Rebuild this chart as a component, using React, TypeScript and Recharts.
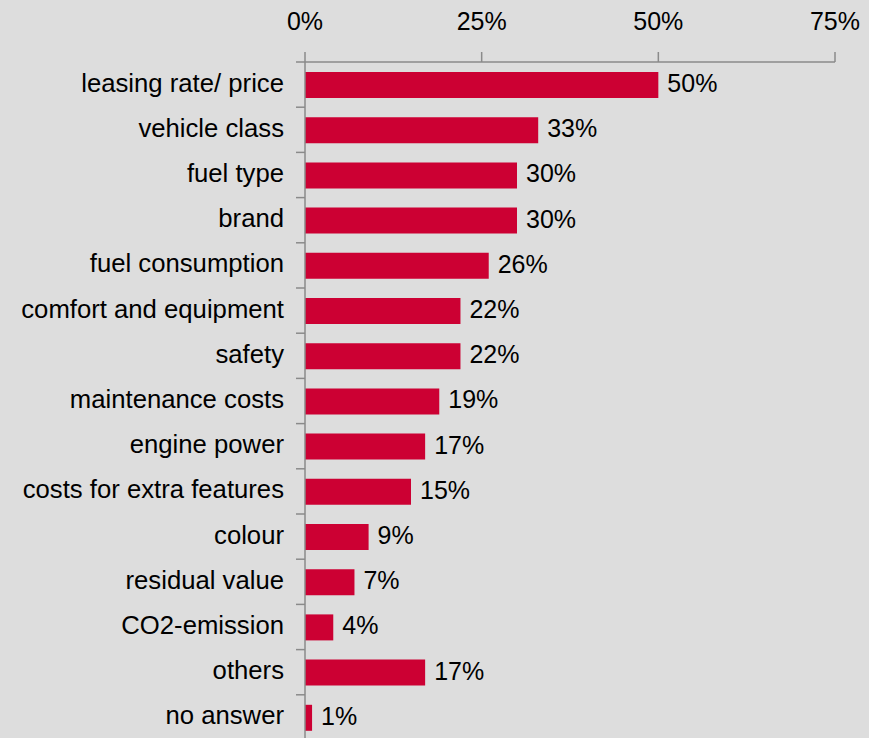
import { BarChart, Bar, XAxis, YAxis, LabelList } from 'recharts';

const categories = [
  'leasing rate/ price',
  'vehicle class',
  'fuel type',
  'brand',
  'fuel consumption',
  'comfort and equipment',
  'safety',
  'maintenance costs',
  'engine power',
  'costs for extra features',
  'colour',
  'residual value',
  'CO2-emission',
  'others',
  'no answer',
];
const shares = [50, 33, 30, 30, 26, 22, 22, 19, 17, 15, 9, 7, 4, 17, 1];
const xTicks = [0, 25, 50, 75];

const data = categories.map((name, i) => ({ name, value: shares[i] }));

const AXIS = '#8a8a8a';
const FONT = '"Liberation Sans", Arial, sans-serif';
const TICK_SIZE = 9;
const TICK_MARGIN = 12;

// category label plus a tick mark at the top edge of its band (excel style)
function CategoryTick(props: any) {
  const { x, y, payload } = props;
  const top = y - (payload.offset ?? 0);
  const axisX = x + TICK_SIZE + TICK_MARGIN;
  return (
    <g>
      <line x1={axisX - TICK_SIZE} x2={axisX} y1={top} y2={top} stroke={AXIS} strokeWidth={1.5} />
      <text x={x} y={y} dy={7} textAnchor="end" fill="#000" fontSize={25.7} fontFamily={FONT}>
        {payload.value}
      </text>
    </g>
  );
}

function ValueLabel(props: any) {
  const { x, y, width, height, value } = props;
  return (
    <text x={x + width + 9} y={y + height / 2 + 7} fill="#000" fontSize={25} fontFamily={FONT}>
      {`${value}%`}
    </text>
  );
}

export default function App() {
  return (
    <div
      style={{
        position: 'absolute',
        left: 0,
        top: 0,
        width: 869,
        height: 738,
        overflow: 'hidden',
        background: '#dddddd',
      }}
    >
      <BarChart
        width={869}
        height={740}
        data={data}
        layout="vertical"
        margin={{ top: 0, right: 34, left: 0, bottom: 0 }}
        barCategoryGap="42%"
      >
        <XAxis
          type="number"
          orientation="top"
          domain={[0, 75]}
          ticks={xTicks}
          height={62}
          stroke={AXIS}
          strokeWidth={1.5}
          tickSize={10}
          tickMargin={22}
          tick={{ fill: '#000', fontSize: 25, fontFamily: FONT }}
          tickFormatter={(v) => `${v}%`}
          interval={0}
        />
        <YAxis
          type="category"
          dataKey="name"
          width={305}
          stroke={AXIS}
          strokeWidth={1.5}
          tickLine={false}
          tickSize={TICK_SIZE}
          tickMargin={TICK_MARGIN}
          tick={<CategoryTick />}
          interval={0}
        />
        <Bar dataKey="value" fill="#cc0033" barSize={26} isAnimationActive={false}>
          <LabelList dataKey="value" content={<ValueLabel />} />
        </Bar>
      </BarChart>
    </div>
  );
}
